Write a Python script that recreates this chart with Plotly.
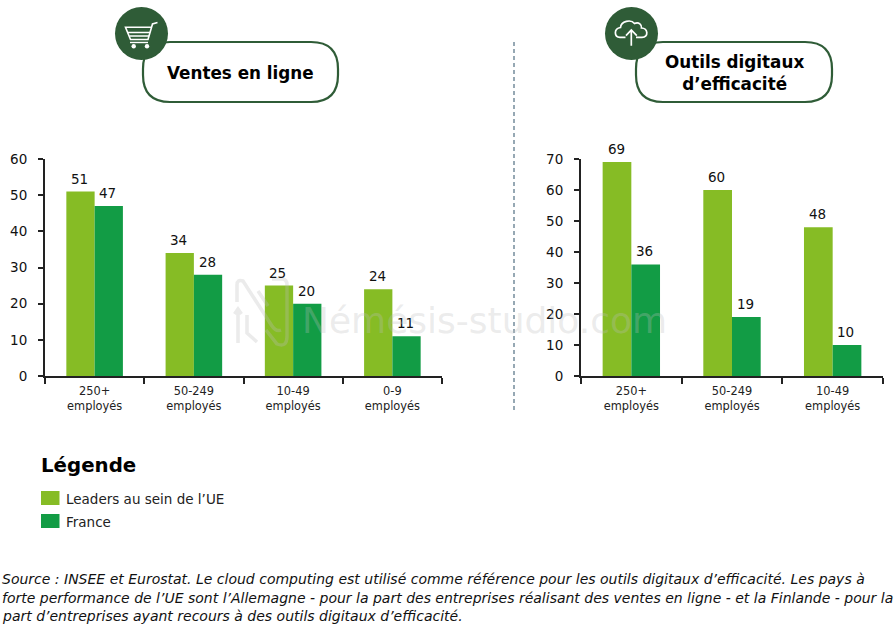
import plotly.graph_objects as go

FONT = 'DejaVu Sans'
LEADER_GREEN = '#86bc25'
FRANCE_GREEN = '#129c45'
DARK_GREEN = '#2f5c37'
WATERMARK = 'rgba(190,190,190,0.3)'
WIDTH = 896
HEIGHT = 629

# Ventes en ligne
sales_categories = ['250+<br>employés', '50-249<br>employés', '10-49<br>employés', '0-9<br>employés']
sales_leaders = [51, 34, 25, 24]
sales_france = [47, 28, 20, 11]

# Outils digitaux d'efficacité
tools_categories = ['250+<br>employés', '50-249<br>employés', '10-49<br>employés']
tools_leaders = [69, 60, 48]
tools_france = [36, 19, 10]

source_lines = [
    'Source : INSEE et Eurostat. Le cloud computing est utilisé comme référence pour les outils digitaux d’efficacité. Les pays à',
    'forte performance de l’UE sont l’Allemagne - pour la part des entreprises réalisant des ventes en ligne - et la Finlande - pour la',
    'part d’entreprises ayant recours à des outils digitaux d’efficacité.',
]

annotations = []


def x_dom(left, right):
    return [left / WIDTH, right / WIDTH]


def y_dom(top, bottom):
    return [1 - bottom / HEIGHT, 1 - top / HEIGHT]


def add_bars(fig, categories, leaders, france, xaxis, yaxis):
    series = [('Leaders au sein de l’UE', leaders, LEADER_GREEN, -14.3), ('France', france, FRANCE_GREEN, 14.3)]
    for name, values, color, shift in series:
        fig.add_trace(go.Bar(
            x=categories, y=values, name=name, xaxis=xaxis, yaxis=yaxis,
            marker=dict(color=color, line=dict(width=0)),
            showlegend=False,
        ))
        # valeurs au-dessus des barres, un peu plus haut que le textposition outside
        for category, value in zip(categories, values):
            annotations.append(dict(
                text=str(value), x=category, y=value, xref=xaxis, yref=yaxis,
                xshift=shift - 1, yshift=3, xanchor='center', yanchor='bottom', showarrow=False,
                font=dict(family=FONT, size=13.5, color='#111111'),
            ))


fig = go.Figure()
add_bars(fig, sales_categories, sales_leaders, sales_france, 'x', 'y')
add_bars(fig, tools_categories, tools_leaders, tools_france, 'x2', 'y2')

x_style = dict(
    showgrid=False, showline=True, linecolor='#222222', linewidth=2, ticks='outside',
    ticklen=6, tickwidth=1.5, tickcolor='#222222', tickson='boundaries', automargin=False,
    ticklabelstandoff=3,
    tickfont=dict(family=FONT, size=11.4, color='#222222'), tickangle=0, fixedrange=True,
)
y_style = dict(
    showgrid=False, showline=True, linecolor='#222222', linewidth=2, ticks='outside',
    ticklen=5, tickwidth=1.5, tickcolor='#222222', zeroline=False, automargin=False,
    ticklabelstandoff=8,
    tickfont=dict(family=FONT, size=13.5, color='#111111'), fixedrange=True,
)


def label(text, x, y, size, anchor='left', bold=False, italic=False, color='#111111'):
    if bold:
        text = f'<b>{text}</b>'
    if italic:
        text = f'<i>{text}</i>'
    annotations.append(dict(
        text=text, x=x, y=y, xref='x3', yref='y3', xanchor=anchor, yanchor='middle',
        showarrow=False, align='center', borderpad=0, borderwidth=0,
        font=dict(family=FONT, size=size, color=color),
    ))


def rounded_box(left, top, right, bottom, r):
    return (f'M{left + r},{top} H{right - r} Q{right},{top} {right},{top + r} V{bottom - r} '
            f'Q{right},{bottom} {right - r},{bottom} H{left + r} Q{left},{bottom} {left},{bottom - r} '
            f'V{top + r} Q{left},{top} {left + r},{top} Z')


def path_shape(path, color='white', width=1.6, fill=None):
    return dict(
        type='path', path=path, xref='x3', yref='y3', layer='above',
        line=dict(color=color, width=width), fillcolor=fill,
    )


def circle_shape(cx, cy, r, fill):
    return dict(
        type='circle', x0=cx - r, x1=cx + r, y0=cy - r, y1=cy + r, xref='x3', yref='y3',
        layer='above', fillcolor=fill, line=dict(width=0),
    )


shapes = [
    path_shape(rounded_box(143, 42, 338, 102, 27), DARK_GREEN, 2.2),
    path_shape(rounded_box(636, 42, 832, 102, 27), DARK_GREEN, 2.2),
    circle_shape(141.5, 33.5, 26.5, DARK_GREEN),
    circle_shape(631.5, 33.5, 26.5, DARK_GREEN),
    # caddie
    path_shape('M157.5,22.5 L152.5,24 L148,39.5 H130.5 L125.5,27.3 H151.5', width=1.6),
    path_shape('M127.5,32.5 H150 M129.5,36 H149', width=1.3),
    path_shape('M130,42.5 H148', width=1.4),
    circle_shape(133.7, 46.3, 2.2, 'white'),
    circle_shape(147, 46.3, 2.2, 'white'),
    # nuage
    path_shape('M625.5,37.3 H620 C614,37 613.5,28.5 620.5,27.5 C621,21 631,19 634.5,23.5 '
               'C639,21.5 642,25 641.5,28 C648,28 649,37.3 642,37.3 H636', width=1.7),
    path_shape('M631.3,45.7 V30 M626,35.7 L631.3,30 L636.8,35.7', width=1.7),
    # logo du filigrane
    path_shape('M238,343 V310 M234.5,314 L238,309 L241.5,314', WATERMARK, 3.5),
    path_shape('M237,302 V285 Q237,279 243,281 L272,326 Q276,332 281,330', WATERMARK, 3.5),
    path_shape('M247,315 V333 L257,342 M258,291 L268,306', WATERMARK, 3.5),
    path_shape('M272,279 H282 Q287,279 287,285 V336 Q287,348 277,344 L266,330', WATERMARK, 3.5),
    # separateur
    dict(type='line', x0=514, x1=514, y0=42, y1=412, xref='x3', yref='y3',
         line=dict(color='#5f7a8c', width=1.3, dash='4px,3px')),
    # legende
    dict(type='rect', x0=41, x1=59.5, y0=491, y1=505, xref='x3', yref='y3',
         fillcolor=LEADER_GREEN, line=dict(width=0)),
    dict(type='rect', x0=41, x1=59.5, y0=514, y1=528, xref='x3', yref='y3',
         fillcolor=FRANCE_GREEN, line=dict(width=0)),
]

label('Ventes en ligne', 240, 73, 16.8, 'center', bold=True, color='#000000')
label('Outils digitaux<br>d’efficacité', 734, 73, 16.8, 'center', bold=True, color='#000000')
label('Légende', 41, 465, 19.8, bold=True, color='#000000')
label('Leaders au sein de l’UE', 66, 499, 13.5, color='#222222')
label('France', 66, 522, 13.5, color='#222222')
label('Némésis-studio.com', 302, 320, 36, color=WATERMARK)

for line, y in zip(source_lines, [579, 598, 616]):
    label(line, 2, y, 14, italic=True, color='#111111')

fig.update_layout(
    width=WIDTH, height=HEIGHT,
    margin=dict(l=0, r=0, t=0, b=0, pad=0),
    paper_bgcolor='white', plot_bgcolor='rgba(0,0,0,0)',
    barmode='group', bargap=0.43, bargroupgap=0,
    showlegend=False,
    xaxis=dict(domain=x_dom(45, 442), anchor='y', **x_style),
    yaxis=dict(domain=y_dom(159, 376), anchor='x', range=[0, 60], dtick=10, **y_style),
    xaxis2=dict(domain=x_dom(581, 883), anchor='y2', **x_style),
    yaxis2=dict(domain=y_dom(159, 376), anchor='x2', range=[0, 70], dtick=10, **y_style),
    xaxis3=dict(domain=[0, 1], range=[0, WIDTH], visible=False, anchor='y3', fixedrange=True, automargin=False),
    yaxis3=dict(domain=[0, 1], range=[HEIGHT, 0], visible=False, anchor='x3', fixedrange=True, automargin=False),
    shapes=shapes,
    annotations=annotations,
)

# la page ajoute 8px de marge au body
fig.write_html('out.html', config=dict(displayModeBar=False), post_script="document.body.style.margin='0';")
